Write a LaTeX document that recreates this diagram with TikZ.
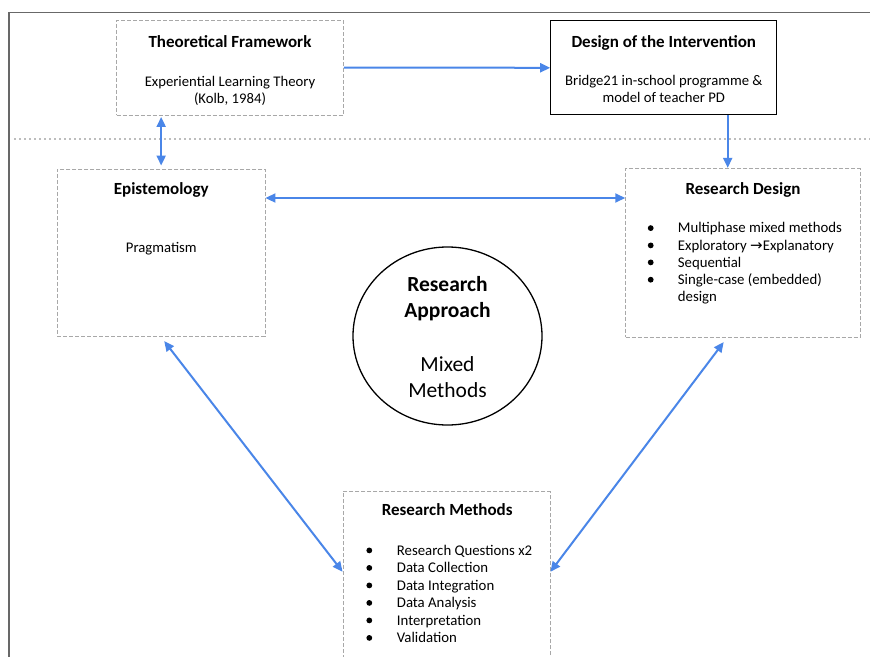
\documentclass[tikz,border=0pt]{standalone}
\usepackage{fontspec}
\setmainfont{Carlito}
\newfontfamily\symfont{DejaVu Sans}
\usetikzlibrary{arrows.meta,shapes.geometric,calc}
\definecolor{linkblue}{HTML}{4A86E8}
\definecolor{framegray}{HTML}{686868}
\definecolor{boxgray}{HTML}{A8A8A8}
\definecolor{dotgray}{HTML}{7A7A7A}

\begin{document}
\begin{tikzpicture}[x=1pt,y=-1pt,
  dashbox/.style={draw=boxgray,line width=0.9pt,dash pattern=on 4pt off 2pt,inner sep=0pt},
  solidbox/.style={draw=black,line width=1pt,inner sep=0pt},
  link/.style={draw=linkblue,line width=2pt,-{Triangle[length=10pt,width=9pt]}},
  twoway/.style={draw=linkblue,line width=2pt,{Triangle[length=10pt,width=9pt]}-{Triangle[length=10pt,width=9pt]}},
  title/.style={anchor=base,inner sep=0pt,font=\fontsize{17}{20}\selectfont\bfseries},
  body/.style={anchor=base,inner sep=0pt,font=\fontsize{14.7}{17}\selectfont},
  item/.style={anchor=base west,inner sep=0pt,font=\fontsize{14.8}{17}\selectfont},
  dot/.style={circle,fill=black,minimum size=5.8pt,inner sep=0pt},
  bigbold/.style={anchor=base,inner sep=0pt,font=\fontsize{21.5}{25}\selectfont\bfseries},
  bigtext/.style={anchor=base,inner sep=0pt,font=\fontsize{21.5}{25}\selectfont}
]
\clip (0,0) rectangle (870,656);
\fill[white] (0,0) rectangle (870,656);

% page frame and separator
\draw[framegray,line width=1.3pt] (9,700) -- (9,12.7) -- (900,12.7);
\draw[dotgray,line width=1.6pt,line cap=round,dash pattern=on 0pt off 5pt] (15,139) -- (870,139);

% boxes
\node[dashbox,minimum width=226.6pt,minimum height=95pt] (tf) at (230,67.5) {};
\node[solidbox,minimum width=226pt,minimum height=94.3pt] (di) at (663.7,67.8) {};
\node[dashbox,minimum width=207.7pt,minimum height=167.7pt] (epi) at (161.15,252.85) {};
\node[dashbox,minimum width=234.3pt,minimum height=169pt] (rd) at (742.85,252.8) {};
\node[dashbox,minimum width=207pt,minimum height=208.3pt] (rm) at (446.5,595.85) {};
\node[draw=black,line width=1.3pt,ellipse,minimum width=189pt,minimum height=178pt,inner sep=0pt] (ra) at (447.5,336) {};

% theoretical framework
\node[title] (tft) at (230,47) {Theoretical Framework};
\node[body] (tfa) at (230,86) {Experiential Learning Theory};
\node[body] (tfb) at (230,103) {(Kolb, 1984)};

% design of the intervention
\node[title] (dit) at (663.8,47) {Design of the Intervention};
\node[body] (dia) at (663.8,85) {Bridge21 in-school programme \&};
\node[body] (dib) at (663.8,102) {model of teacher PD};

% epistemology
\node[title] (epit) at (161.3,194.3) {Epistemology};
\node[body] (epia) at (161.3,252.7) {Pragmatism};

% research design
\node[title] (rdt) at (743,194) {Research Design};
\foreach \n/\yy in {1/232.7,2/250,3/267,4/284.3}
  \node[dot] (rdd\n) at (650.7,\yy-4.6) {};
\node[item] (rd1) at (677.7,232.7) {Multiphase mixed methods};
\node[item] (rd2) at (677.7,250) {Exploratory {\symfont\fontsize{15}{17}\selectfont\raisebox{-0.6pt}{→}}Explanatory};
\node[item] (rd3) at (677.7,267) {Sequential};
\node[item] (rd4) at (677.7,284.3) {Single-case (embedded)};
\node[item] (rd5) at (677.7,301) {design};

% research approach
\node[bigbold] (raa) at (447.5,291.7) {Research};
\node[bigbold] (rab) at (447.5,317) {Approach};
\node[bigtext] (rac) at (447.5,371.7) {Mixed};
\node[bigtext] (rad) at (447.5,397.3) {Methods};

% research methods
\node[title] (rmt) at (447.2,515.7) {Research Methods};
\foreach \n/\yy in {1/555,2/572.5,3/590,4/607.5,5/625,6/642.5}
  \node[dot] (rmd\n) at (369.3,\yy-4.6) {};
\node[item] (rm1) at (396.7,555) {Research Questions x2};
\node[item] (rm2) at (396.7,572.5) {Data Collection};
\node[item] (rm3) at (396.7,590) {Data Integration};
\node[item] (rm4) at (396.7,607.5) {Data Analysis};
\node[item] (rm5) at (396.7,625) {Interpretation};
\node[item] (rm6) at (396.7,642.5) {Validation};

% connectors
\draw[link] (tf.east) -- (di.west);
\draw[link] (di.south -| 727.7,0) -- (rd.north -| 727.7,0);
\draw[twoway,shorten <=1.5pt,shorten >=3pt] (tf.south -| epi.north) -- (epi.north);
\draw[twoway] (epi.east |- 0,198) -- (rd.west |- 0,198);
\draw[twoway,shorten <=5pt] (epi.south) -- ([yshift=-80.5pt]rm.north west);
\draw[twoway,shorten <=5.5pt] (rd.south -| 727,0) -- ([yshift=-80.5pt]rm.north east);
\end{tikzpicture}
\end{document}
